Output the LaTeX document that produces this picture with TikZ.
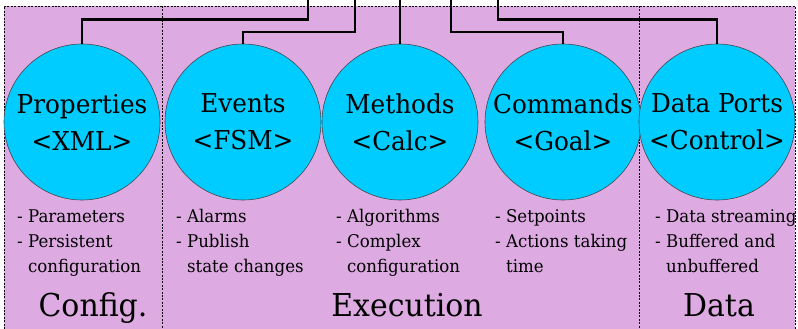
\documentclass[tikz,border=0pt]{standalone}
\usepackage{fontspec}
\setmainfont[FakeStretch=0.95]{DejaVu Serif}
\definecolor{panelpink}{RGB}{221,170,226}
\definecolor{blobcyan}{RGB}{0,204,255}
\definecolor{rimgray}{RGB}{70,70,80}
\begin{document}
\begin{tikzpicture}[x=1pt,y=-1pt,
  blob/.style={circle,fill=blobcyan,draw=rimgray,line width=0.6pt,minimum size=156pt,inner sep=0pt,
    align=center,font=\fontsize{26}{37}\selectfont},
  wire/.style={line width=2.8pt,line join=miter},
  border/.style={line width=0.8pt,dash pattern=on 2pt off 1.4pt},
  notes/.style={anchor=base west,inner sep=0pt,font=\fontsize{17.5}{25}\selectfont},
  group/.style={anchor=base,inner sep=0pt,font=\fontsize{31.5}{36}\selectfont}]
\useasboundingbox (0,0) rectangle (798,329);
% panel background and dashed frame
\fill[panelpink] (4,6) rectangle (795,329);
\draw[border] (4,329) -- (4,6) -- (795,6) -- (795,329);
\draw[border] (162,6) -- (162,329);
\draw[border] (639,6) -- (639,329);
% the five blocks
\node[blob] (props) at (82,122) {Properties\\<XML>};
\node[blob] (events) at (243,122) {Events\\<FSM>};
\node[blob] (methods) at (400,122) {Methods\\<Calc>};
\node[blob] (cmds) at (563,122) {Commands\\<Goal>};
\node[blob] (ports) at (717,122) {Data Ports\\<Control>};
% feed lines entering from the top edge
\coordinate (t1) at (308,0);
\coordinate (t2) at (355,0);
\coordinate (t3) at (400,0);
\coordinate (t4) at (451,0);
\coordinate (t5) at (498,0);
\draw[wire] (t1) -- ++(0,19.5) -| (props.north);
\draw[wire] (t2) -- ++(0,32) -| (events.north);
\draw[wire] (t3) -- (methods.north);
\draw[wire] (t4) -- ++(0,32) -| (cmds.north);
\draw[wire] (t5) -- ++(0,19.5) -| (ports.north);
% bullet notes
\node[notes] (n1) at (17,222) {\begin{tabular}[t]{@{}l@{}}- Parameters\\- Persistent\\\phantom{- }configuration\end{tabular}};
\node[notes] (n2) at (176,222) {\begin{tabular}[t]{@{}l@{}}- Alarms\\- Publish\\\phantom{- }state changes\end{tabular}};
\node[notes] (n3) at (336,222) {\begin{tabular}[t]{@{}l@{}}- Algorithms\\- Complex\\\phantom{- }configuration\end{tabular}};
\node[notes] (n4) at (495,222) {\begin{tabular}[t]{@{}l@{}}- Setpoints\\- Actions taking\\\phantom{- }time\end{tabular}};
\node[notes] (n5) at (655,222) {\begin{tabular}[t]{@{}l@{}}- Data streaming\\- Buffered and\\\phantom{- }unbuffered\end{tabular}};
% group captions
\node[group] (g1) at (93,316) {Config.};
\node[group] (g2) at (407,316) {Execution};
\node[group] (g3) at (719,316) {Data};
\end{tikzpicture}
\end{document}
